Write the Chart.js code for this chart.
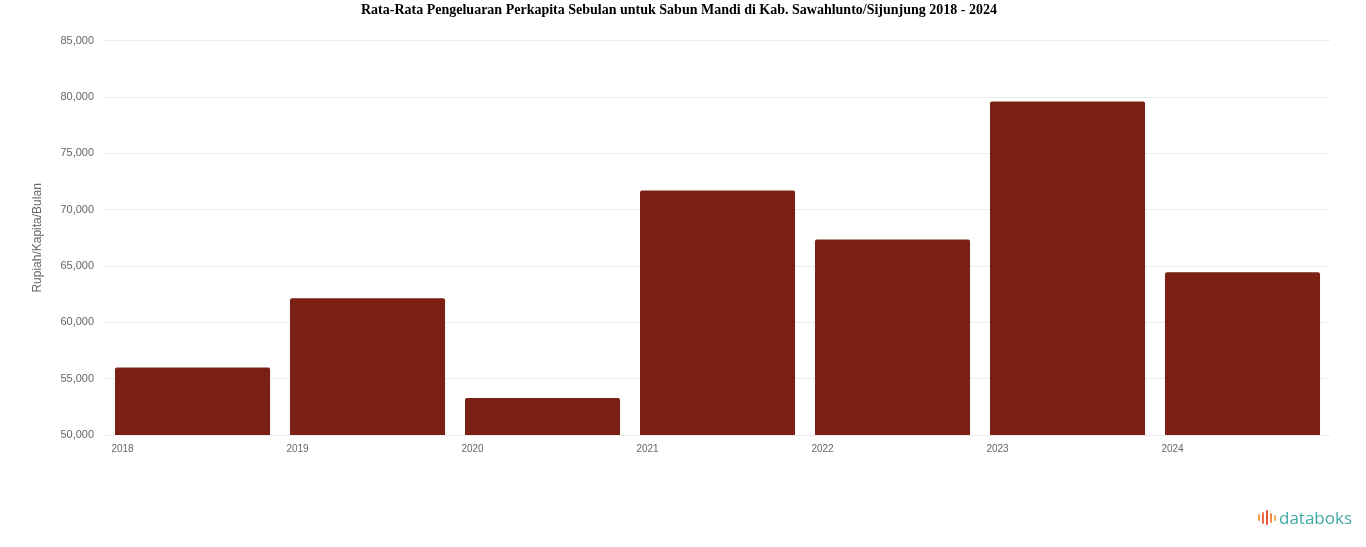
<!DOCTYPE html>
<html>
<head>
<meta charset="utf-8">
<script src="https://cdn.jsdelivr.net/npm/chart.js@4"></script>
<style>
  html, body { margin: 0; padding: 0; background: #fff; }
  #wrap { position: relative; width: 1366px; height: 547px; }
  #logo {
    position: absolute; right: 14px; bottom: 18px;
    font-family: "Open Sans", Arial, sans-serif; font-size: 17px;
    color: #3fa9a6; display: flex; align-items: center;
  }
  #logo .mark { display: inline-flex; align-items: center; gap: 2px; margin-right: 3px; height: 16px; }
  #logo .mark span { display: inline-block; width: 2px; border-radius: 1px; }
</style>
</head>
<body>
<div id="wrap">
  <canvas id="chart" width="1366" height="547"></canvas>
  <div id="logo">
    <div class="mark">
      <span style="height:7px;background:#f29a4a"></span>
      <span style="height:12px;background:#ef6a4c"></span>
      <span style="height:15px;background:#e8533f"></span>
      <span style="height:10px;background:#f08a48"></span>
      <span style="height:6px;background:#f5b04f"></span>
    </div>
    <span>databoks</span>
  </div>
</div>
<script>

const years = ["2018","2019","2020","2021","2022","2023","2024"];

const spending = [56000,62150,53280,71700,67350,79600,64450];

const tickMin = 50000;
const tickMax = 85000;
const tickStep = 5000;

const chartTitle = "Rata-Rata Pengeluaran Perkapita Sebulan untuk Sabun Mandi di Kab. Sawahlunto/Sijunjung 2018 - 2024";
const yTitle = "Rupiah/Kapita/Bulan";

const ctx =
    document
    .getElementById("chart")
    .getContext("2d");

new Chart(ctx,{

    type:"bar",

    data:{

        labels:years,

        datasets:[{

            data:spending,

            backgroundColor:"#7a2114",

            borderRadius:2,

            barPercentage:0.886,

            categoryPercentage:1

        }]

    },

    options:{

        responsive:false,

        animation:false,

        layout:{

            padding:{left:28,right:36,top:0,bottom:92}

        },

        plugins:{

            legend:{display:false},

            tooltip:{enabled:false},

            title:{

                display:true,

                text:chartTitle,

                color:"#000",

                font:{family:"Liberation Serif",size:14,weight:"bold"},

                padding:{top:2,bottom:22}

            }

        },

        scales:{

            x:{

                grid:{display:false},

                border:{display:false},

                ticks:{

                    color:"#666",

                    padding:0,

                    font:{family:"Liberation Sans",size:10},

                    labelOffset:-70,

                    maxRotation:0

                }

            },

            y:{

                min:tickMin,

                max:tickMax,

                grid:{color:"#ececec",drawTicks:false},

                border:{display:false},

                ticks:{

                    stepSize:tickStep,

                    color:"#666",

                    padding:11,

                    font:{family:"Liberation Sans",size:11},

                    callback:value=>value.toLocaleString("en-US")

                },

                title:{

                    display:true,

                    text:yTitle,

                    color:"#666",

                    padding:{top:2,bottom:5},

                    font:{family:"Liberation Sans",size:12}

                }

            }

        }

    }

});

</script>
</body>
</html>
